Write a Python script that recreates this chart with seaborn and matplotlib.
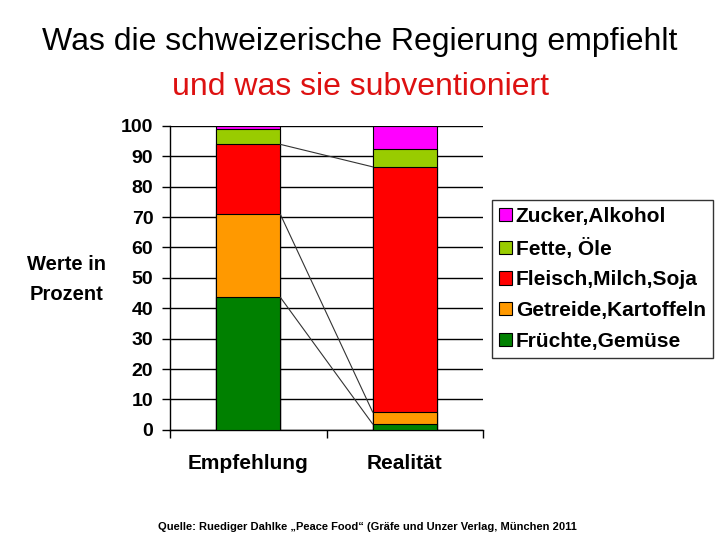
import matplotlib.pyplot as plt
import numpy as np
import seaborn as sns

sns.set_style("white")
plt.rcParams["font.family"] = ["Liberation Sans", "DejaVu Sans"]
plt.rcParams["text.color"] = "black"
plt.rcParams["ytick.color"] = "black"
plt.rcParams["xtick.color"] = "black"

# Daten (Prozent), von unten nach oben gestapelt
balken = ["Empfehlung", "Realität"]
gruppen = ["Früchte,Gemüse", "Getreide,Kartoffeln", "Fleisch,Milch,Soja", "Fette, Öle", "Zucker,Alkohol"]
farben = ["#008000", "#ff9900", "#ff0000", "#99cc00", "#ff00ff"]
fruechte = [43.6, 1.9]
getreide = [27.3, 3.9]
fleisch = [23.0, 80.7]
fette = [5.2, 6.0]
zucker = [0.9, 7.5]

werte = np.array([fruechte, getreide, fleisch, fette, zucker])
kumuliert = np.cumsum(werte, axis=0)

breite = 0.41

fig = plt.figure(figsize=(7.2, 5.4), dpi=100)
ax = fig.add_axes([0.236, 0.204, 0.435, 0.563])

# kumulierte Balken von oben nach unten zeichnen -> gestapelte Optik
for i in range(len(gruppen) - 1, -1, -1):
    sns.barplot(x=balken, y=kumuliert[i], color=farben[i], saturation=1,
                edgecolor="black", linewidth=0.8, width=breite,
                label=gruppen[i], ax=ax, zorder=3)
if ax.get_legend() is not None:
    ax.get_legend().remove()

# Verbindungslinien zwischen den Balken
for i in range(3):
    ax.plot([breite / 2, 1 - breite / 2], [kumuliert[i][0], kumuliert[i][1]],
            color="#333333", linewidth=0.8, zorder=4)

ax.set_ylim(0, 100)
ax.set_xlim(-0.5, 1.5)
ax.set_yticks(np.arange(0, 101, 10))
ax.yaxis.grid(True, color="black", linewidth=1)
ax.set_axisbelow(True)
for s in ["top", "right"]:
    ax.spines[s].set_visible(False)
for s in ["left", "bottom"]:
    ax.spines[s].set_color("black")
    ax.spines[s].set_linewidth(1)

ax.tick_params(axis="y", length=6, width=1, color="black", left=True, pad=6)
ax.set_xticks([-0.5, 0.5, 1.5], minor=False)
ax.set_xticklabels(["", "", ""])
ax.tick_params(axis="x", length=6, width=1, color="black", bottom=True)
for lab in ax.get_yticklabels():
    lab.set_fontweight("bold")
    lab.set_fontsize(14)
ax.set_xlabel("")
ax.set_ylabel("")

for j, name in enumerate(balken):
    ax.text(j, -8, name, ha="center", va="top", fontsize=15, fontweight="bold",
            transform=ax.transData)

fig.text(0.092, 0.483, "Werte in\nProzent", ha="center", va="center", fontsize=14.5,
         fontweight="bold", linespacing=1.75)

fig.text(0.5, 0.922, "Was die schweizerische Regierung empfiehlt", ha="center", va="center",
         fontsize=23)
fig.text(0.5, 0.838, "und was sie subventioniert", ha="center", va="center",
         fontsize=23, color="#dd1111")
fig.text(0.51, 0.025, "Quelle: Ruediger Dahlke „Peace Food“ (Gräfe und Unzer Verlag, München 2011",
         ha="center", va="center", fontsize=8, fontweight="bold")

leg = fig.legend(loc="upper left", bbox_to_anchor=(0.683, 0.630), fontsize=15,
                 frameon=True, fancybox=False, edgecolor="black", borderpad=0.35,
                 handlelength=0.6, handleheight=0.6, handletextpad=0.2,
                 labelspacing=0.56, borderaxespad=0)
for t in leg.get_texts():
    t.set_fontweight("bold")
leg.get_frame().set_linewidth(1)

plt.savefig("out.png", dpi=100)
plt.close()
